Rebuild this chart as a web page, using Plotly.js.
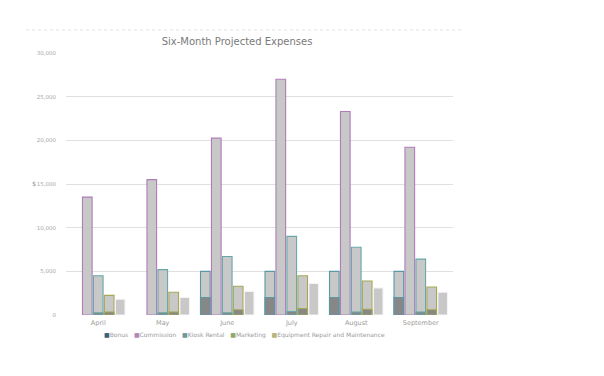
<!DOCTYPE html>
<html>
<head>
<meta charset="utf-8">
<script src="https://cdn.plot.ly/plotly-3.0.1.min.js"></script>
<style>html,body{margin:0;padding:0;background:#fff;}#chart{width:604px;height:376px;}</style>
</head>
<body>
<div id="chart"></div>
<script>
const months = ["April", "May", "June", "July", "August", "September"];
const seriesNames = ["Bonus", "Commission", "Kiosk Rental", "Marketing", "Equipment Repair and Maintenance"];
const bonus = [null, null, 5000, 5000, 5000, 5000];
const commission = [13500, 15500, 20250, 27000, 23300, 19200];
const kioskRental = [4500, 5200, 6700, 9000, 7750, 6400];
const marketing = [2250, 2600, 3300, 4500, 3900, 3200];
const equipment = [1800, 2000, 2700, 3600, 3100, 2600];
// darker lower portions visible inside some bars
const bonusDark = [null, null, 2000, 2000, 2000, 2000];
const kioskDark = [250, 250, 250, 400, 350, 350];
const marketingDark = [350, 350, 600, 750, 650, 600];
const yTicks = [0, 5000, 10000, 15000, 20000, 25000, 30000];

const outline = ["#5a98a6", "#b07cba", "#66a8a8", "#a8a852", "#f4f4f4"];
const legendColors = ["#3f5f78", "#b488b8", "#6f9898", "#93a868", "#b8b47c"];
const fill = "#c8c8c8";
const dark = "#878787";

const mainVals = [bonus, commission, kioskRental, marketing, equipment];
const traces = mainVals.map((v, i) => ({
  type: "bar", x: months, y: v, name: seriesNames[i], offsetgroup: String(i),
  marker: { color: fill, line: { color: outline[i], width: 1.1 } },
  showlegend: false, hoverinfo: "x+y+name"
}));
const darkSets = [[0, bonusDark], [2, kioskDark], [3, marketingDark]];
darkSets.forEach(([i, v]) => traces.push({
  type: "bar", x: months, y: v, name: seriesNames[i], offsetgroup: String(i),
  marker: { color: dark, line: { color: outline[i], width: 1.1 } },
  showlegend: false, hoverinfo: "skip"
}));

const legendText = seriesNames.map((s, i) =>
  `<span style="color:${legendColors[i]}">■</span><span style="color:#9a9a9a">${s}</span>`).join("   ");

const layout = {
  width: 604, height: 376,
  margin: { l: 66, r: 151, t: 53, b: 61 },
  paper_bgcolor: "#fff", plot_bgcolor: "#fff",
  barmode: "group", bargap: 0.15, bargroupgap: 0.12,
  font: { family: "DejaVu Sans, sans-serif", color: "#999" },
  title: { text: "Six-Month Projected Expenses", x: 0.442, xref: "paper", xanchor: "center", y: 0.89, yanchor: "middle",
           font: { size: 10, color: "#7a7a7a", family: "DejaVu Sans, sans-serif" } },
  xaxis: { type: "category", showgrid: false, zeroline: false, showline: false,
           ticks: "", tickfont: { size: 6.5, color: "#9a9a9a" }, ticklabelstandoff: 2 },
  yaxis: { range: [0, 30000], tickvals: yTicks, tickformat: ",d",
           showgrid: true, gridcolor: "#e0e0e0", gridwidth: 1, zeroline: false, showline: false,
           ticks: "outside", ticklen: 8, tickcolor: "rgba(0,0,0,0)",
           tickfont: { size: 5.5, color: "#a8a8a8" } },
  shapes: [{ type: "line", xref: "paper", yref: "paper", x0: -0.103, x1: 1.023, y0: 1.088, y1: 1.088,
             line: { color: "#e2e2e2", width: 1, dash: "dot" } }],
  annotations: [
    { text: "$", xref: "paper", yref: "y", x: -0.072, xanchor: "right", y: 15000, showarrow: false,
      font: { size: 6.5, color: "#999" } },
    { text: legendText, xref: "paper", yref: "paper", x: 0.46, y: -0.076, xanchor: "center", yanchor: "middle",
      showarrow: false, font: { size: 6, color: "#9a9a9a" } }
  ],
  showlegend: false
};
Plotly.newPlot("chart", traces, layout, { staticPlot: true, displayModeBar: false });
</script>
</body>
</html>
